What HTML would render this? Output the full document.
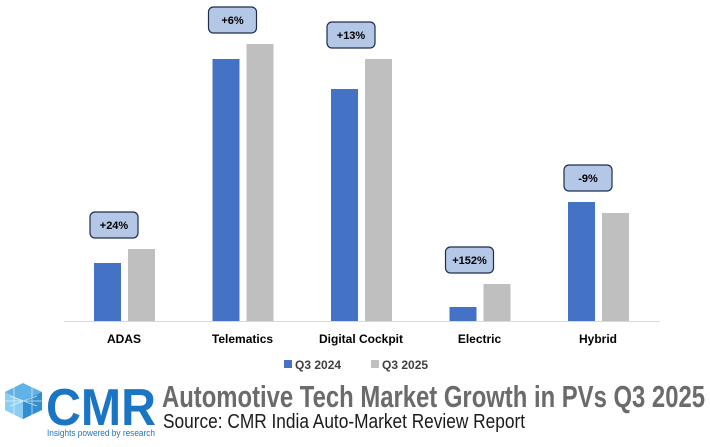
<!DOCTYPE html>
<html><head><meta charset="utf-8"><style>
body{margin:0;background:#fff;}
svg{display:block;font-family:"Liberation Sans",Arial,sans-serif;}
</style></head><body>
<svg id="c" width="710" height="447" viewBox="0 0 710 447">
<line x1="64" y1="321.5" x2="660" y2="321.5" stroke="#d9d9d9" stroke-width="1"/>
<g id="bars"></g>
<g>
<rect x="284" y="360" width="8" height="8" fill="#4472c4"/>
<text x="295" y="369" font-size="12" font-weight="bold" fill="#404040">Q3 2024</text>
<rect x="371" y="360" width="8" height="8" fill="#bfbfbf"/>
<text x="382" y="369" font-size="12" font-weight="bold" fill="#404040">Q3 2025</text>
</g>
<g>
<g>
<polygon points="23,383 42,392 42,410 23,419 5,410 5,392" fill="#5fb3e6"/>
<polygon points="23,401 42,392 42,410 23,419" fill="#2f8fd0"/>
<polygon points="23,401 5,392 5,410 23,419" fill="#8ccdf2"/>
<path d="M14,387 L14,415 M32,387 L32,415 M5,401 L42,401 M10,396 L37,406 M10,406 L37,396" stroke="#ffffff" stroke-width="1" opacity="0.6"/>
</g>
<text x="46" y="425" font-size="52" font-weight="bold" fill="#1a75c4" textLength="110" lengthAdjust="spacingAndGlyphs">CMR</text>
<text x="47" y="436" font-size="9" fill="#1a75c4" textLength="108" lengthAdjust="spacingAndGlyphs">Insights powered by research</text>
</g>
<text x="162" y="407" font-size="31" font-weight="bold" fill="#6b6b6b" textLength="543" lengthAdjust="spacingAndGlyphs">Automotive Tech Market Growth in PVs Q3 2025</text>
<text x="163" y="428" font-size="20" fill="#1a1a1a" textLength="362" lengthAdjust="spacingAndGlyphs">Source: CMR India Auto-Market Review Report</text>
</svg>
<script>
const categories=["ADAS","Telematics","Digital Cockpit","Electric","Hybrid"];
const q3_2024=[58,262,232,14,119];
const q3_2025=[72,277,262,37,108];
const growthLabels=["+24%","+6%","+13%","+152%","-9%"];
const NS="http://www.w3.org/2000/svg";
const g=document.getElementById("bars");
const baseY=321, x0=124, step=118.5, bw=27, yScale=1;
function xC(i){return x0+i*step;}
function yV(v){return baseY-v*yScale;}
function mk(t,a){const e=document.createElementNS(NS,t);for(const k in a)e.setAttribute(k,a[k]);g.appendChild(e);return e;}
categories.forEach((c,i)=>{
  const cx=xC(i);
  const b1=mk("rect",{x:cx-bw-3,y:yV(q3_2024[i]),width:bw,height:baseY-yV(q3_2024[i]),fill:"#4472c4"});
  
  
  const b2=mk("rect",{x:cx+4,y:yV(q3_2025[i]),width:bw,height:baseY-yV(q3_2025[i]),fill:"#bfbfbf"});
  
  
  const l=mk("text",{x:cx,y:343,"text-anchor":"middle","font-size":"12","font-weight":"bold",fill:"#000"});
  l.textContent=c;
  
  
  const top=Math.min(yV(q3_2024[i]),yV(q3_2025[i]));
  const bx=cx-bw-7, by=top-37;
  const r=mk("rect",{x:bx,y:by,width:48,height:26,rx:5,fill:"#b4c7e7",stroke:"#1f2d4d","stroke-width":"1.2"});
  
  
  const t=mk("text",{x:bx+24,y:by+17,"text-anchor":"middle","font-size":"11","font-weight":"bold",fill:"#000"});
  t.textContent=growthLabels[i];
  
  
});
</script>
</body></html>
